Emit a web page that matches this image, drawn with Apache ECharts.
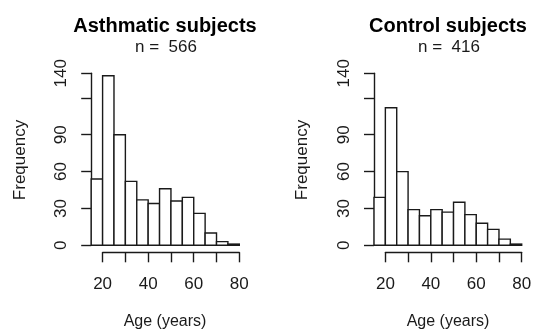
<!DOCTYPE html>
<html>
<head>
<meta charset="UTF-8" />
<title>Age histograms</title>
<script src="https://cdn.jsdelivr.net/npm/echarts@6/dist/echarts.min.js"></script>
</head>
<body style="margin:0; background:#fff;">
<div id="chart" style="width: 533px; height: 335px;"></div>
<script>
// bin edges (years), 5-year bins from 15 to 80
var breaks = [15, 20, 25, 30, 35, 40, 45, 50, 55, 60, 65, 70, 75, 80];
// counts
var asthmaCounts = [54, 138, 90, 52, 37, 34, 46, 36, 39, 26, 10, 3, 1];
var controlCounts = [39, 112, 60, 29, 24, 29, 27, 35, 25, 18, 13, 5, 1];
var yTicks = [0, 30, 60, 90, 120, 140];
var xTicks = [20, 30, 40, 50, 60, 70, 80];
var xLabels = [20, 40, 60, 80];

var font = "Liberation Sans, Arial, Helvetica, sans-serif";
var ink = "#1a1a1a";

function bins(counts) {
  var out = [];
  for (var i = 0; i < counts.length; i++) {
    out.push([breaks[i], breaks[i + 1], counts[i]]);
  }
  return out;
}

function renderBar(params, api) {
  var p0 = api.coord([api.value(0), 0]);
  var p1 = api.coord([api.value(1), api.value(2)]);
  return {
    type: "rect",
    shape: { x: p0[0], y: p1[1], width: p1[0] - p0[0], height: p0[1] - p1[1] },
    style: { fill: "#fff", stroke: ink, lineWidth: 1.4 }
  };
}

function barX(idx) {
  return { gridIndex: idx, type: "value", min: 15, max: 80, show: false };
}
function barY(idx) {
  return {
    gridIndex: idx, type: "value", min: 0, max: 140, interval: 30,
    splitLine: { show: false },
    axisLine: { show: true, lineStyle: { color: ink, width: 1.4 } },
    axisTick: { show: true, length: 10, inside: false, lineStyle: { color: ink, width: 1.4 } },
    axisLabel: {
      rotate: 90, margin: 21, color: ink, fontSize: 17, fontFamily: font,
      showMinLabel: true, showMaxLabel: true,
      formatter: function (v) { return yTicks.indexOf(v) >= 0 && v !== 120 ? String(v) : ""; }
    }
  };
}
function tickX(idx) {
  return {
    gridIndex: idx, type: "value", min: 20, max: 80, interval: 10,
    position: "bottom",
    splitLine: { show: false },
    axisLine: { show: true, onZero: false, lineStyle: { color: ink, width: 1.4 } },
    axisTick: { show: true, length: 10, inside: false, lineStyle: { color: ink, width: 1.4 } },
    axisLabel: {
      margin: 24, color: ink, fontSize: 17, fontFamily: font,
      showMinLabel: true, showMaxLabel: true,
      formatter: function (v) { return xLabels.indexOf(v) >= 0 ? String(v) : ""; }
    }
  };
}
function tickY(idx) {
  return { gridIndex: idx, type: "value", show: false };
}

function panelText(cx, title, n) {
  return [
    { type: "text", x: cx, y: 26, style: { text: title, font: "bold 20px " + font, fill: "#000", align: "center", verticalAlign: "middle" } },
    { type: "text", x: cx + 1, y: 47, style: { text: "n =  " + n, font: "17px " + font, fill: ink, align: "center", verticalAlign: "middle" } },
    { type: "text", x: cx, y: 322, style: { text: "Age (years)", font: "16px " + font, fill: ink, align: "center", verticalAlign: "middle" } }
  ];
}

var myChart = echarts.init(document.getElementById("chart"), null, { renderer: "canvas" });

var grids = [
  { left: 91.2, top: 73.3, width: 148.1, height: 172 },
  { left: 102.6, top: 242, width: 136.7, height: 10.3 },
  { left: 374, top: 73.3, width: 147.7, height: 172 },
  { left: 385.4, top: 242, width: 136.3, height: 10.3 }
];
grids.forEach(function (g) { g.containLabel = false; g.outerBoundsMode = "none"; });

var option = {
  animation: false,
  backgroundColor: "#fff",
  textStyle: { fontFamily: font },
  grid: grids,
  xAxis: [barX(0), tickX(1), barX(2), tickX(3)],
  yAxis: [barY(0), tickY(1), barY(2), tickY(3)],
  series: [
    { type: "custom", xAxisIndex: 0, yAxisIndex: 0, renderItem: renderBar,
      encode: { x: [0, 1], y: 2 }, data: bins(asthmaCounts) },
    { type: "custom", xAxisIndex: 2, yAxisIndex: 2, renderItem: renderBar,
      encode: { x: [0, 1], y: 2 }, data: bins(controlCounts) }
  ],
  graphic: panelText(165, "Asthmatic subjects", 566)
    .concat(panelText(448, "Control subjects", 416))
    .concat([
      { type: "text", x: 20, y: 160, rotation: Math.PI / 2, style: { text: "Frequency", font: "17px " + font, fill: ink, align: "center", verticalAlign: "middle" } },
      { type: "text", x: 302, y: 160, rotation: Math.PI / 2, style: { text: "Frequency", font: "17px " + font, fill: ink, align: "center", verticalAlign: "middle" } }
    ])
};

myChart.setOption(option);
</script>
</body>
</html>
